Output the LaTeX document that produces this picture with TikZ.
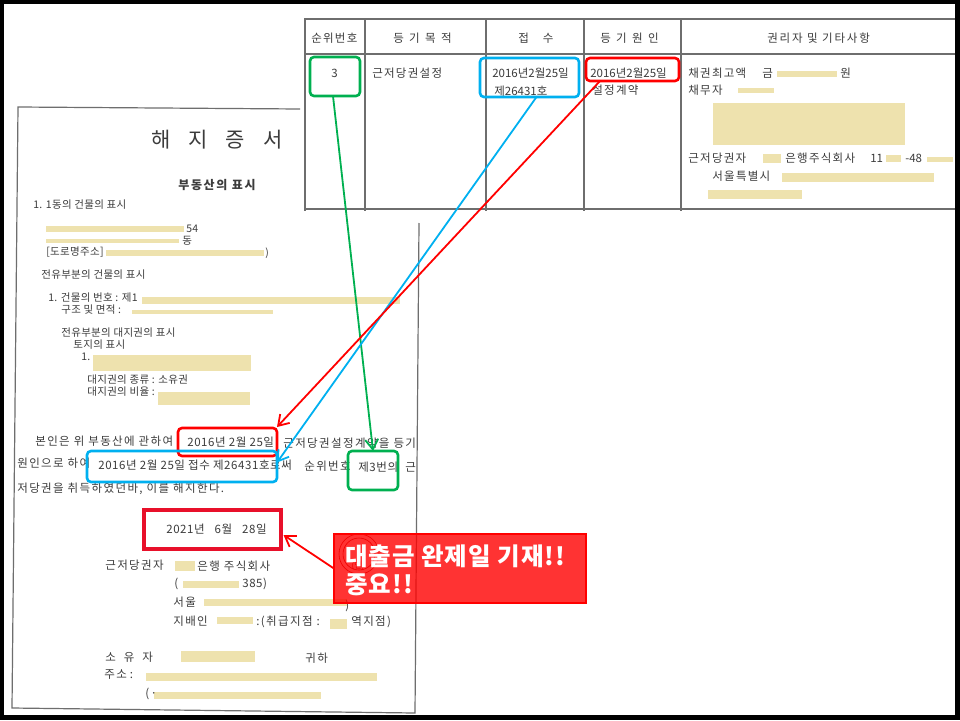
\documentclass[tikz,border=0pt]{standalone}
\usepackage{fontspec}
\setmainfont{Noto Sans CJK KR}
\usepackage{tikz}
\usetikzlibrary{arrows.meta,positioning}

\definecolor{inkgray}{HTML}{3C3C3C}
\definecolor{rulegray}{HTML}{6E6E6E}
\definecolor{maskbeige}{HTML}{EEE2AE}
\definecolor{markgreen}{HTML}{00B050}
\definecolor{markblue}{HTML}{00B0F0}
\definecolor{markcrimson}{HTML}{E8102A}

\begin{document}
\begin{tikzpicture}[x=1pt,y=-1pt,>={Straight Barb[length=10pt,width=13pt]},semithick]
	\tikzstyle{doctext}=[anchor=west,inner sep=0pt,text=inkgray,font=\fontsize{10.5}{12}\selectfont\addfontfeature{LetterSpace=3}]
	\tikzstyle{bodytext}=[doctext,font=\fontsize{11.5}{13}\selectfont\addfontfeature{LetterSpace=12}]
	\tikzstyle{bodydate}=[doctext,font=\fontsize{11.5}{13}\selectfont\addfontfeature{LetterSpace=5}]
	\tikzstyle{tabletext}=[doctext,font=\fontsize{11.5}{13}\selectfont]
	\tikzstyle{tablewide}=[doctext,font=\fontsize{11.5}{13}\selectfont\addfontfeature{LetterSpace=11}]
	\tikzstyle{headwide}=[doctext,font=\fontsize{11.5}{13}\selectfont\addfontfeature{LetterSpace=24}]
	\tikzstyle{maskbar}=[anchor=north west,inner sep=0pt,outer sep=0pt,fill=maskbeige]
	\tikzstyle{rulesheet}=[rulegray,line width=1.2pt]
	\tikzstyle{rulegrid}=[rulegray,line width=1.4pt]
	\tikzstyle{markbox}=[draw,rounded corners=4pt,line width=2.6pt,inner sep=0pt,outer sep=0pt]
	\tikzstyle{linkgreen}=[->,markgreen,line width=1.8pt]
	\tikzstyle{linkblue}=[->,markblue,line width=1.8pt]
	\tikzstyle{linkred}=[->,red,line width=1.8pt]

	\fill[black] (0,0) rectangle (960,720);
	\fill[white] (4,4) rectangle (955,715);
	\useasboundingbox (0,0) rectangle (960,720);

	\foreach \x/\y/\w/\h [count=\i] in {46/226/138/6,46/239/133/4,106/250/158/6,142/297/258/7,132/310/141/4,
			93/355/158/16,158/392/92/13,175/561/20/10,183/581/56/7,204/599/143/7,217/617/36/7,330/619/17/10,
			181/651/74/11,146/673/231/8,154/692/167/7,777/71/60/6,738/88/36/5,713/103/192/42,763/154/18/9,
			886/155/15/7,927/157/26/5,782/173/152/9,708/190/94/9}
		\node[maskbar,minimum width=\w pt,minimum height=\h pt] (bar\i) at (\x,\y) {};

	\coordinate (sheetNW) at (18,107);
	\coordinate (sheetNE) at (300,109);
	\coordinate (sheetSW) at (12,708);
	\coordinate (sheetSE) at (415,713);
	\coordinate (sheetE) at (419,223);
	\draw[rulesheet] (sheetNE) -- (sheetNW) -- (sheetSW) -- (sheetSE) -- (sheetE);

	\node[doctext,font=\fontsize{21}{24}\selectfont] (title) at (151,140) {해\hspace{18pt}지\hspace{18pt}증\hspace{18pt}서};
	\node[doctext,font=\fontsize{12}{14}\bfseries\selectfont\addfontfeature{LetterSpace=14}] (subtitle) at (178,185) {부동산의 표시};
	\node[doctext] (building) at (33,205) {1. 1동의 건물의 표시};
	\node[doctext] (addrA) at (186,229) {54};
	\node[doctext] (addrB) at (182,241) {동};
	\node[doctext] (road) at (46,252) {[도로명주소]};
	\node[doctext] (roadEnd) at (265,253) {)};
	\node[doctext] (unit) at (41,275) {전유부분의 건물의 표시};
	\node[doctext] (unitNo) at (48,298) {1. 건물의 번호 : 제1};
	\node[doctext] (unitArea) at (61,310) {구조 및 면적 :};
	\node[doctext] (landRight) at (61,333) {전유부분의 대지권의 표시};
	\node[doctext] (landMark) at (73,345) {토지의 표시};
	\node[doctext] (landNo) at (81,357) {1.};
	\node[doctext] (landKind) at (87,380) {대지권의 종류 : 소유권};
	\node[doctext] (landRate) at (87,392) {대지권의 비율 :};

	\node[bodytext] (lineA) at (35,441) {본인은 위 부동산에 관하여};
	\node[bodydate] (lineAdate) at (187,442) {2016년 2월 25일};
	\node[bodytext] (lineAend) at (283,443) {근저당권설정계약을 등기};
	\node[bodytext] (lineB) at (17,463) {원인으로 하여};
	\node[bodydate] (lineBdate) at (98,465) {2016년 2월 25일 접수 제26431호로써};
	\node[bodytext] (lineBrank) at (304,466) {순위번호};
	\node[bodydate] (lineBthird) at (358,467) {제3번의};
	\node[bodytext] (lineBend) at (405,467) {근};
	\node[bodytext] (lineC) at (17,489) {저당권을 취득하였던바, 이를 해지한다.};
	\node[bodydate] (payDate) at (166,529) {2021년\hspace{10pt}6월\hspace{10pt}28일};

	\node[bodytext] (holder) at (105,565) {근저당권자};
	\node[bodytext] (bank) at (197,566) {은행 주식회사};
	\node[bodytext] (zipOpen) at (174,584) {(};
	\node[bodydate] (zipEnd) at (242,584) {385)};
	\node[bodytext] (seoul) at (173,602) {서울};
	\node[bodytext] (seoulEnd) at (345,606) {)};
	\node[bodytext] (manager) at (173,621) {지배인};
	\node[bodytext] (branch) at (256,622) {:(취급지점 :};
	\node[bodytext] (branchEnd) at (351,622) {역지점)};
	\node[bodytext] (owner) at (105,657) {소\hspace{8pt}유\hspace{8pt}자};
	\node[bodytext] (honor) at (305,658) {귀하};
	\node[bodytext] (ownerAddr) at (104,675) {주소\hspace{3pt}:};
	\node[bodytext] (ownerOpen) at (145,694) {(·};

	\draw[rulegrid] (304,19) -- (955,19);
	\draw[rulegrid] (304,54) -- (955,54);
	\draw[rulegrid] (304,209) -- (955,209);
	\foreach \x in {305,365,486,584,681}
		\draw[rulegrid] (\x,19) -- (\x,211);

	\node[tablewide] (headRank) at (311,38) {순위번호};
	\node[headwide] (headPurpose) at (393,38) {등 기 목 적};
	\node[tabletext] (headReceipt) at (518,38) {접\hspace{14pt}수};
	\node[headwide] (headCause) at (600,38) {등 기 원 인};
	\node[tablewide,font=\fontsize{11.5}{13}\selectfont\addfontfeature{LetterSpace=16}] (headHolder) at (767,38) {권리자 및 기타사항};
	\node[tabletext] (cellRank) at (331,73) {3};
	\node[tablewide] (cellPurpose) at (372,73) {근저당권설정};
	\node[tabletext] (cellDate) at (492,73) {2016년2월25일};
	\node[tabletext] (cellNo) at (494,91) {제26431호};
	\node[tabletext] (cellCause) at (590,73) {2016년2월25일};
	\node[tablewide] (cellContract) at (592,90) {설정계약};
	\node[tablewide] (maxClaim) at (688,73) {채권최고액};
	\node[tabletext] (maxGeum) at (762,73) {금};
	\node[tabletext] (maxWon) at (840,73) {원};
	\node[tablewide] (debtor) at (688,90) {채무자};
	\node[tablewide] (mortgagee) at (688,158) {근저당권자};
	\node[tablewide] (mortBank) at (785,158) {은행주식회사};
	\node[tabletext] (mortNoA) at (870,158) {11};
	\node[tabletext] (mortNoB) at (905,158) {-48};
	\node[tablewide] (mortCity) at (712,176) {서울특별시};

	\node[circle,draw=red!70!black,minimum size=40pt,inner sep=0pt] (seal) at (359,554) {};
	\node[circle,draw=red!70!black,minimum size=32pt,inner sep=0pt] (sealInner) at (seal) {};
	\node[inner sep=0pt,text=red!70!black,font=\fontsize{8}{9}\selectfont] (sealText) at (358,566) {(인)};

	\node[markbox,markgreen,minimum width=50pt,minimum height=39pt] (boxRank) at (335,76.5) {};
	\node[markbox,markblue,minimum width=99pt,minimum height=39pt] (boxReceipt) at (529.5,77.5) {};
	\node[markbox,red,minimum width=93pt,minimum height=23pt] (boxCause) at (632.5,69.5) {};
	\node[markbox,red,minimum width=99pt,minimum height=28pt] (markCause) at (227.5,442) {};
	\node[markbox,markblue,minimum width=190pt,minimum height=31pt] (markReceipt) at (182,466.5) {};
	\node[markbox,markgreen,minimum width=50pt,minimum height=39pt] (markRank) at (373,470.5) {};
	\node[draw=markcrimson,line width=4pt,inner sep=0pt,outer sep=0pt,minimum width=137pt,minimum height=39pt] (markPaid) at (212,529) {};

	\draw[linkgreen] ([xshift=-2pt]boxRank.south) -- (markRank.north);
	\draw[linkblue] ([xshift=7pt]boxReceipt.south) -- ([yshift=4pt]markReceipt.east);
	\draw[linkred] ([xshift=14pt]boxCause.south west) -- ([yshift=1pt]markCause.north east);

	\node[draw=red,line width=2.6pt,fill=red,fill opacity=.8,text opacity=1,text=white,inner sep=0pt,outer sep=0pt,
		minimum width=252pt,minimum height=69pt] (callout) at (460,568.5) {};
	\node[anchor=west,inner sep=0pt,text=white,font=\fontsize{24.5}{28}\bfseries\selectfont\addfontfeature{LetterSpace=4},align=left] (calloutText) at (345,570)
		{대출금 완제일 기재!!\\중요!!};
	\draw[linkred] (callout.west) -- ([xshift=3pt,yshift=-6pt]markPaid.east);
\end{tikzpicture}
\end{document}
